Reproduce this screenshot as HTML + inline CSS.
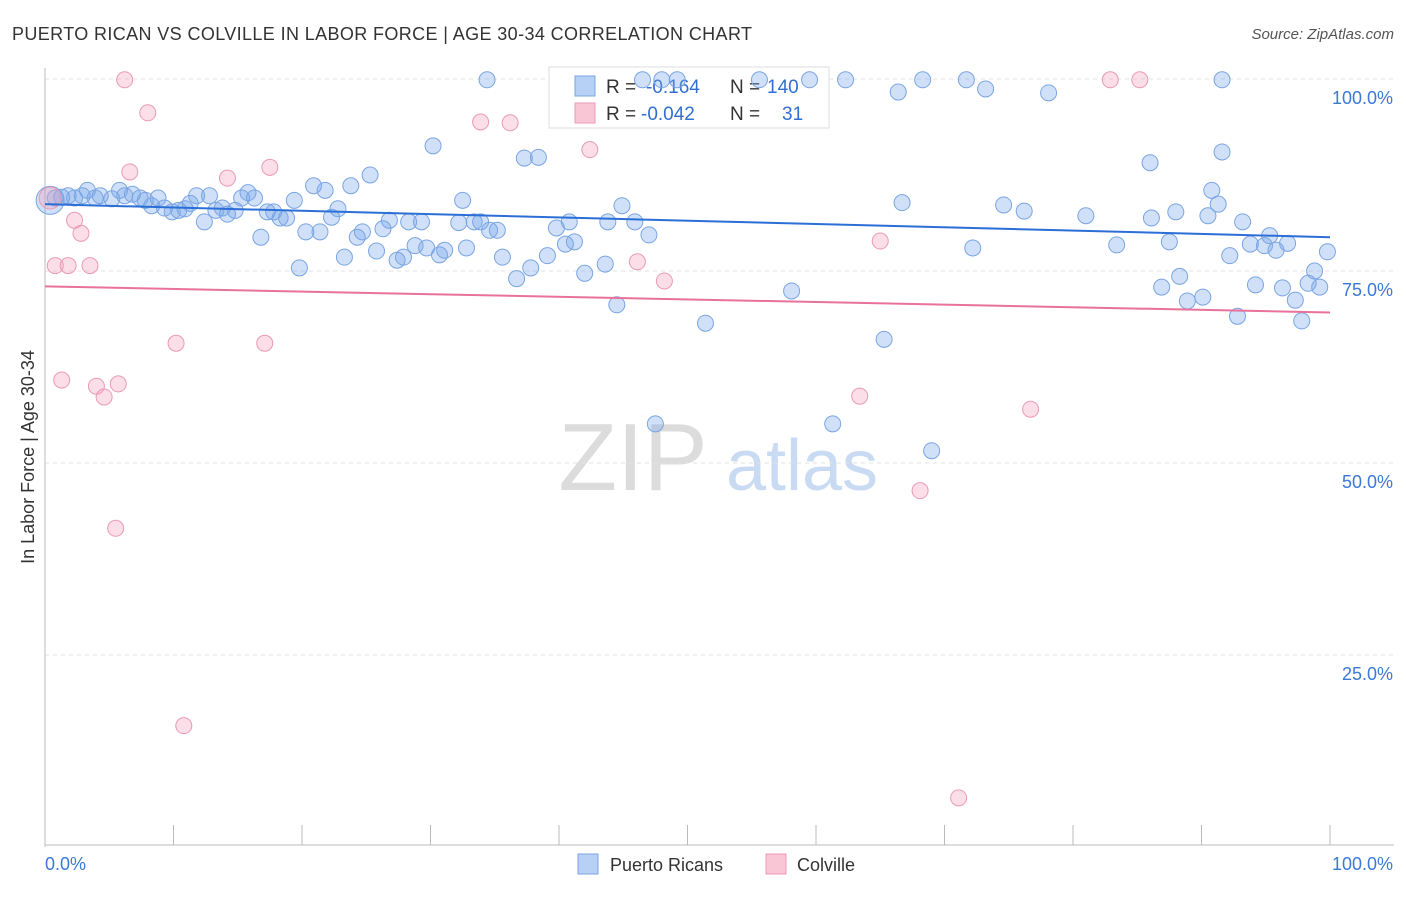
<!DOCTYPE html>
<html><head><meta charset="utf-8"><style>
body{margin:0;background:#fff;font-family:"Liberation Sans",sans-serif}
svg text{font-family:"Liberation Sans",sans-serif}
</style></head><body>
<svg width="1406" height="892" xmlns="http://www.w3.org/2000/svg">
<text x="12" y="40" font-size="18" fill="#333" textLength="740">PUERTO RICAN VS COLVILLE IN LABOR FORCE | AGE 30-34 CORRELATION CHART</text>
<text x="1394" y="39" font-size="15" fill="#555" text-anchor="end" font-style="italic">Source: ZipAtlas.com</text>
<g>
<text x="633" y="490" font-size="96" fill="#dcdcdc" text-anchor="middle" font-family="Liberation Serif, serif">ZIP</text>
<text x="802" y="490" font-size="72" fill="#c9dbf3" text-anchor="middle">atlas</text>
</g>
<g id="grid"></g>
<g id="axes"></g>
<g>
<rect x="549" y="67" width="280" height="61" fill="#fff" stroke="#ddd"/>
<rect x="575" y="76" width="20" height="20" fill="#b7d0f5" stroke="#7aa5e3"/>
<rect x="575" y="103" width="20" height="20" fill="#f9c6d6" stroke="#eb9ab5"/>
<text x="606" y="93" font-size="19" fill="#333">R = </text><text x="646" y="93" font-size="19" fill="#2f6fd4">-0.164</text>
<text x="730" y="93" font-size="19" fill="#333">N = </text><text x="767" y="93" font-size="19" fill="#2f6fd4">140</text>
<text x="606" y="120" font-size="19" fill="#333">R = </text><text x="641" y="120" font-size="19" fill="#2f6fd4">-0.042</text>
<text x="730" y="120" font-size="19" fill="#333">N = </text><text x="782" y="120" font-size="19" fill="#2f6fd4">31</text>
</g>
<g id="marks"></g>
<text transform="translate(34,457) rotate(-90)" font-size="18" fill="#333" text-anchor="middle">In Labor Force | Age 30-34</text>
<g>
<rect x="578" y="854" width="20" height="20" fill="#b7d0f5" stroke="#7aa5e3"/>
<text x="610" y="871" font-size="18" fill="#333">Puerto Ricans</text>
<rect x="766" y="854" width="20" height="20" fill="#f9c6d6" stroke="#eb9ab5"/>
<text x="797" y="871" font-size="18" fill="#333">Colville</text>
</g>
</svg>
<script>
const blueX=[0.4,0.8,1.3,1.8,2.3,2.9,3.3,3.9,4.3,5.2,5.8,6.2,6.8,7.4,7.8,8.3,8.8,9.3,9.9,10.4,10.9,11.3,11.8,12.4,12.8,13.3,13.8,14.2,14.8,15.3,15.8,16.3,16.8,17.3,17.8,18.3,18.8,19.4,19.8,20.3,20.9,21.4,21.8,22.3,22.8,23.3,23.8,24.3,24.7,25.3,25.8,26.3,26.8,27.4,27.9,28.3,28.8,29.3,29.7,30.2,30.7,31.1,32.2,32.5,32.8,33.4,33.9,34.4,34.6,35.2,35.6,36.7,37.3,37.8,38.4,39.1,39.8,40.5,40.8,41.2,42.0,43.6,43.8,44.5,44.9,45.9,46.5,47.0,47.5,48.0,49.2,51.4,55.6,58.1,59.5,61.3,62.3,65.3,66.4,66.7,68.3,69.0,71.7,72.2,73.2,74.6,76.2,78.1,81.0,83.4,86.0,86.1,86.9,87.5,88.0,88.3,88.9,90.1,90.5,90.8,91.3,91.6,91.6,92.2,92.8,93.2,93.8,94.2,94.9,95.3,95.8,96.3,96.7,97.3,97.8,98.3,98.8,99.2,99.8];
const blueY=[84.2,84.5,84.6,84.8,84.5,84.8,85.5,84.5,84.8,84.4,85.5,84.8,85.0,84.5,84.2,83.5,84.5,83.2,82.7,82.9,83.1,83.8,84.8,81.4,84.8,82.9,83.2,82.4,82.9,84.5,85.2,84.5,79.4,82.7,82.7,81.9,81.9,84.2,75.4,80.1,86.1,80.1,85.5,82.0,83.1,76.8,86.1,79.4,80.1,87.5,77.6,80.5,81.6,76.4,76.8,81.4,78.3,81.4,78.0,91.3,77.1,77.7,81.3,84.2,78.0,81.4,81.4,99.9,80.3,80.3,76.8,74.0,89.7,75.4,89.8,77.0,80.6,78.5,81.4,78.8,74.7,75.9,81.4,70.6,83.5,81.4,99.9,79.7,55.1,99.9,99.9,68.2,99.9,72.4,99.9,55.1,99.9,66.1,98.3,83.9,99.9,51.6,99.9,78.0,98.7,83.6,82.8,98.2,82.2,78.4,89.1,81.9,72.9,78.8,82.7,74.3,71.1,71.6,82.2,85.5,83.7,99.9,90.5,77.0,69.1,81.4,78.5,73.2,78.3,79.6,77.7,72.8,78.6,71.2,68.5,73.4,75.0,72.9,77.5];
const pinkX=[0.4,0.8,1.3,1.8,2.3,2.8,3.5,4.0,4.6,5.5,5.7,6.2,6.6,8.0,10.2,10.8,14.2,17.1,17.5,33.9,36.2,42.4,46.1,48.2,63.4,65.0,68.1,71.1,76.7,82.9,85.2];
const pinkY=[84.5,75.7,60.8,75.7,81.6,79.9,75.7,60.0,58.6,41.5,60.3,99.9,87.9,95.6,65.6,15.8,87.1,65.6,88.5,94.4,94.3,90.8,76.2,73.7,58.7,78.9,46.4,6.4,57.0,99.9,99.9];
const blueTrend=[83.7,79.4];
const pinkTrend=[73.0,69.6];
const yTicks=[100,75,50,25];
const yTickLabels=["100.0%","75.0%","50.0%","25.0%"];
const xTicks=[0,10,20,30,40,50,60,70,80,90,100];

const NS="http://www.w3.org/2000/svg";
const X=v=>45+v*12.85, Y=v=>847-v*7.68;
function mk(p,t,a){const e=document.createElementNS(NS,t);for(const k in a)e.setAttribute(k,a[k]);p.appendChild(e);return e;}
const grid=document.getElementById('grid'),axes=document.getElementById('axes'),marks=document.getElementById('marks');
yTicks.forEach((t,i)=>{
 const l=mk(grid,'line',{x1:45,x2:1394,y1:Y(t),y2:Y(t),stroke:'#e2e2e2','stroke-dasharray':'4,4'});
 
 
 const tx=mk(axes,'text',{x:1393,y:Y(t)+25,'font-size':18,fill:'#3b78d8','text-anchor':'end'});
 tx.textContent=yTickLabels[i];
 
 
});
const ya=mk(axes,'line',{x1:45,x2:45,y1:68,y2:847,stroke:'#bbb'});


const xa=mk(axes,'line',{x1:45,x2:1394,y1:845,y2:845,stroke:'#bbb'});


xTicks.forEach(t=>{
 const l=mk(axes,'line',{x1:X(t),x2:X(t),y1:825,y2:845,stroke:'#bbb'});
 
 
});
[["0.0%",45,'start'],["100.0%",1393,'end']].forEach(d=>{
 const tx=mk(axes,'text',{x:d[1],y:870,'font-size':18,fill:'#3b78d8','text-anchor':d[2]});
 tx.textContent=d[0];
 
 
});
blueX.forEach((x,i)=>{
 const c=mk(marks,'circle',{cx:X(x),cy:Y(blueY[i]),r:i==0?14:8,fill:'rgba(120,165,235,0.35)',stroke:'#7aa5e3','stroke-width':1});
 
 
});
pinkX.forEach((x,i)=>{
 const c=mk(marks,'circle',{cx:X(x),cy:Y(pinkY[i]),r:i==0?11:8,fill:'rgba(245,160,190,0.35)',stroke:'#eb9ab5','stroke-width':1});
 
 
});
const bt=mk(marks,'line',{x1:X(0),x2:X(100),y1:Y(blueTrend[0]),y2:Y(blueTrend[1]),stroke:'#2b6fd6','stroke-width':2});


const pt=mk(marks,'line',{x1:X(0),x2:X(100),y1:Y(pinkTrend[0]),y2:Y(pinkTrend[1]),stroke:'#e8729a','stroke-width':2});


</script>
</body></html>
